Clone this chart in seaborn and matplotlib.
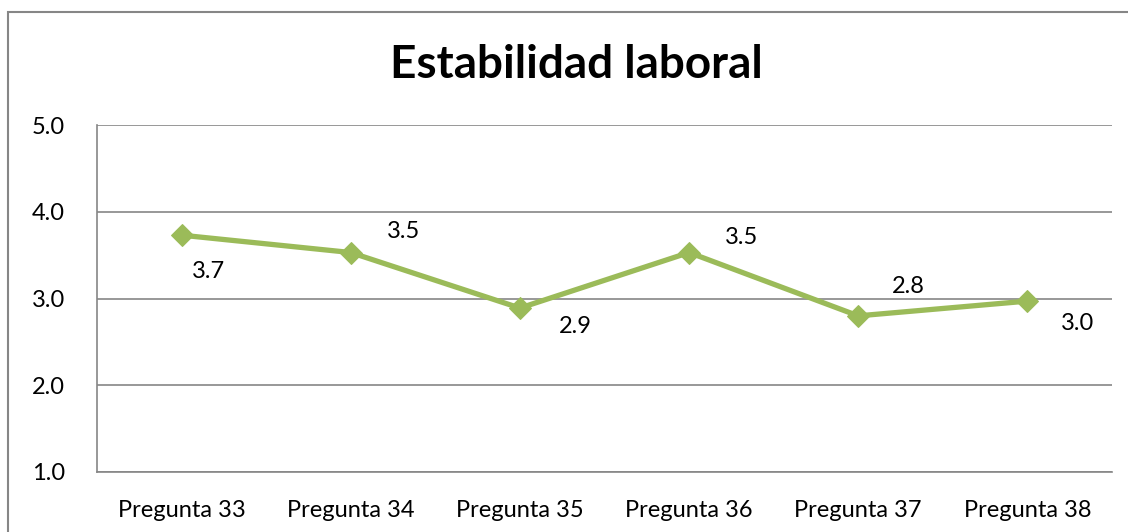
import matplotlib
matplotlib.use("Agg")
import matplotlib.pyplot as plt
import seaborn as sns
import pandas as pd
from matplotlib.patches import Rectangle

categories = ["Pregunta 33", "Pregunta 34", "Pregunta 35", "Pregunta 36", "Pregunta 37", "Pregunta 38"]
values = [3.73, 3.53, 2.89, 3.53, 2.80, 2.97]
y_ticks = [1.0, 2.0, 3.0, 4.0, 5.0]
title = "Estabilidad laboral"

# pixel offsets of each value label relative to its point
label_offsets = [(27, -36), (53, 21), (55, -18), (52, 15), (50, 29), (50, -22)]

sns.set_style("white")
plt.rcParams["font.family"] = ["Lato", "DejaVu Sans"]
plt.rcParams["text.color"] = "black"
plt.rcParams["xtick.color"] = "black"
plt.rcParams["ytick.color"] = "black"

df = pd.DataFrame({"pregunta": categories, "valor": values, "pos": range(len(categories))})

fig = plt.figure(figsize=(11.28, 5.32), dpi=100)
ax = fig.add_axes([97 / 1128, 1 - 472 / 532, (1112 - 97) / 1128, (472 - 125) / 532])

# outer chart frame (only top/left edges visible inside the canvas)
fig.patches.append(Rectangle((8 / 1128, -0.1), 1.2, 1 - 12 / 532 + 0.1,
                             transform=fig.transFigure, fill=False,
                             edgecolor="#868686", linewidth=1.5))

sns.lineplot(data=df, x="pos", y="valor", ax=ax, color="#9BBB59", linewidth=3.8,
             marker="D", markersize=11, markeredgecolor="#9BBB59", zorder=3)

for i, (v, off) in enumerate(zip(values, label_offsets)):
    ax.annotate(f"{v:.1f}", (i, v), xytext=off, textcoords="offset pixels",
                ha="center", va="center", fontsize=17, color="black")

ax.set_xlim(-0.5, len(categories) - 0.5)
ax.set_ylim(1.0, 5.0)
ax.set_yticks(y_ticks)
ax.set_yticklabels([f"{t:.1f}" for t in y_ticks], fontsize=17)
ax.set_xticks(range(len(categories)))
ax.set_xticklabels(categories, fontsize=17)
ax.tick_params(axis="x", length=0, pad=20)
ax.tick_params(axis="y", length=0, pad=23)
ax.set_xlabel("")
ax.set_ylabel("")
ax.grid(axis="y", color="#868686", linewidth=1.2)
ax.grid(axis="x", visible=False)
for side in ["top", "right"]:
    ax.spines[side].set_visible(False)
for side in ["left", "bottom"]:
    ax.spines[side].set_color("#868686")
    ax.spines[side].set_linewidth(1.2)

fig.text(576 / 1128, 1 - 65 / 532, title, ha="center", va="center",
         fontsize=33, fontweight="bold", color="black")

fig.savefig("out.png", dpi=100)
